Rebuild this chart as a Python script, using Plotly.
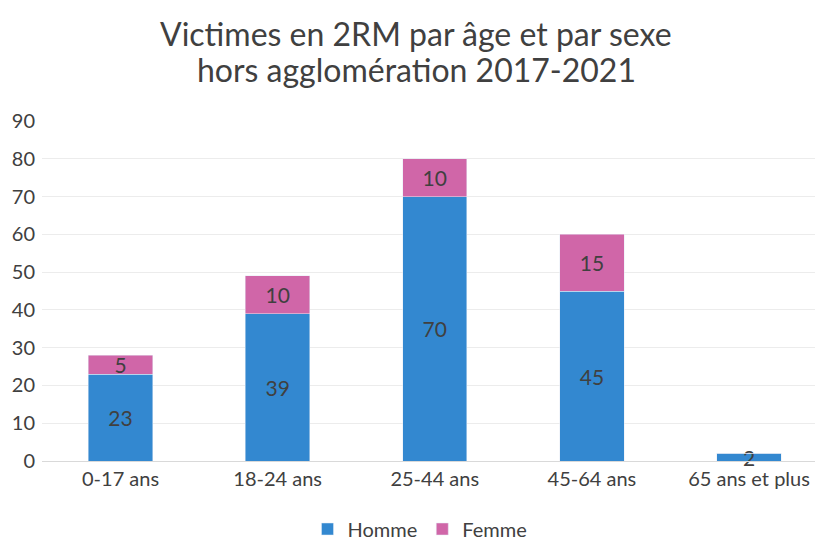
import plotly.graph_objects as go

categories = ["0-17 ans", "18-24 ans", "25-44 ans", "45-64 ans", "65 ans et plus"]
homme = [23, 39, 70, 45, 2]
femme = [5, 10, 10, 15, 0]
y_ticks = [0, 10, 20, 30, 40, 50, 60, 70, 80, 90]
title_lines = ["Victimes en 2RM par âge et par sexe", "hors agglomération 2017-2021"]

def labels(vals):
    return [str(v) if v else "" for v in vals]

fig = go.Figure()
for name, vals, color in [("Homme", homme, "#3388D0"), ("Femme", femme, "#D066A8")]:
    fig.add_trace(go.Bar(x=categories, y=vals, name=name, marker_color=color,
                         text=labels(vals), textposition="inside", insidetextanchor="middle",
                         textangle=0, constraintext="none", cliponaxis=False,
                         textfont=dict(color="#404040", size=21), width=0.41))

H = 541
T, B = 121, 80
PH = H - B - T
annotations = []
for i, line in enumerate(title_lines):
    ypix = 33 + 36 * i
    annotations.append(dict(text=line, xref="paper", yref="paper", x=(416 - 42) / 773,
                            xanchor="center", y=(H - B - ypix) / PH, yanchor="middle",
                            showarrow=False,
                            font=dict(family="Lato, sans-serif", size=32, color="#404040")))

fig.update_layout(
    barmode="stack",
    width=815, height=H,
    margin=dict(l=42, r=0, t=T, b=B, autoexpand=False),
    paper_bgcolor="white", plot_bgcolor="white",
    font=dict(family="Lato, Open Sans, sans-serif", color="#404040", size=20),
    uniformtext=dict(minsize=21, mode="show"),
    annotations=annotations,
    xaxis=dict(range=[-0.5, 4.42], showgrid=False, tickfont=dict(size=20, color="#404040"),
               showline=True, linecolor="#d9d9d9", ticks="", automargin=False),
    yaxis=dict(range=[0, 90], tickvals=y_ticks, showgrid=True, gridcolor="#ececec",
               zeroline=False, tickfont=dict(size=20, color="#404040"), ticks="",
               automargin=False, ticklabelstandoff=6),
    legend=dict(orientation="h", x=(420 - 42) / 773, xanchor="center",
                y=-(529 - 461) / PH, yanchor="middle",
                font=dict(size=20, color="#404040"), traceorder="normal"),
)

fig.write_html("out.html", post_script="document.body.style.margin='0';",
               config={"displayModeBar": False})
